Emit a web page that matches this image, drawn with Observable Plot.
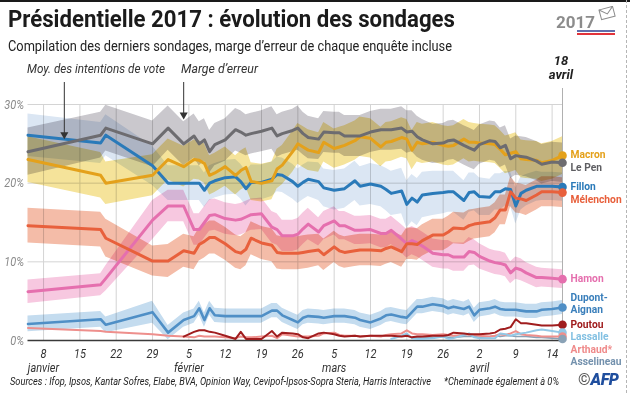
<!DOCTYPE html>
<html lang="fr"><head><meta charset="utf-8">
<script src="https://cdn.jsdelivr.net/npm/d3@7"></script>
<script src="https://cdn.jsdelivr.net/npm/@observablehq/plot@0.6"></script>
<style>
html,body{margin:0;padding:0;background:#fff;}
#wrap{position:relative;width:630px;height:393px;overflow:hidden;background:#fff;font-family:Roboto,"Noto Sans",sans-serif;color:#222;}
.t{position:absolute;white-space:nowrap;transform-origin:0 50%;}
#chart{position:absolute;left:0;top:58px;}
</style></head><body>
<div id="wrap">
 <div style="position:absolute;left:0;top:0;width:630px;height:2px;background:#1a1a1a"></div>
 <div style="position:absolute;left:626px;top:0;height:393px;border-left:1px dashed #b5b5b5"></div>
 <div class="t" data-w="447" style="left:8px;top:4px;font-size:24px;line-height:30px;font-weight:700;color:#1b1b1b">Présidentielle 2017 : évolution des sondages</div>
 <div class="t" data-w="444" style="left:8px;top:37px;font-size:14px;line-height:18px;color:#222">Compilation des derniers sondages, marge d’erreur de chaque enquête incluse</div>
 <div class="t" data-w="138" style="left:27px;top:61px;font-size:13px;line-height:16px;font-style:italic;color:#333">Moy. des intentions de vote</div>
 <div class="t" data-w="77" style="left:181px;top:61px;font-size:13px;line-height:16px;font-style:italic;color:#333">Marge d’erreur</div>
 <div style="position:absolute;left:541px;top:54px;width:40px;text-align:center;font-size:13px;line-height:14px;font-weight:700;font-style:italic;color:#222">18<br>avril</div>
 <div id="chart"></div>
 <div class="t" data-w="421" style="left:10px;top:375px;font-size:11px;line-height:14px;font-style:italic;color:#222">Sources : Ifop, Ipsos, Kantar Sofres, Elabe, BVA, Opinion Way, Cevipof-Ipsos-Sopra Steria, Harris Interactive</div>
 <div class="t" data-w="115" style="left:444px;top:375px;font-size:11px;line-height:14px;font-style:italic;color:#222">*Cheminade également à 0%</div>
 <div style="position:absolute;left:578px;top:371px;font-size:16px;line-height:18px;white-space:nowrap"><span style="color:#555">©</span><span style="font-weight:900;font-style:italic;color:#1f4e9e;letter-spacing:-0.5px">AFP</span></div>
 <svg style="position:absolute;left:555px;top:6px" width="64" height="30">
  <text x="1" y="22" font-size="17" font-weight="700" fill="#8c8c8c" font-family="Roboto">2017</text>
  <g transform="translate(44,4) rotate(-15)"><rect width="14" height="10" fill="#fff" stroke="#8c8c8c"/><path d="M0,0 L7,6 L14,0" fill="none" stroke="#8c8c8c"/></g>
  <line x1="22" y1="25" x2="60" y2="25" stroke="#2c3e8f" stroke-width="1.5"/>
  <line x1="22" y1="28" x2="60" y2="28" stroke="#e2333a" stroke-width="2"/>
 </svg>
</div>
<script>
// ---------- DATA ----------
const dates = ["2017-01-05","2017-01-19","2017-01-20","2017-01-29",
"2017-02-01","2017-02-04","2017-02-06","2017-02-07","2017-02-08","2017-02-09","2017-02-10","2017-02-12","2017-02-14","2017-02-15","2017-02-16","2017-02-17","2017-02-19","2017-02-21","2017-02-22","2017-02-23","2017-02-25","2017-02-26","2017-02-27","2017-02-28",
"2017-03-02","2017-03-03","2017-03-05","2017-03-06","2017-03-07","2017-03-09","2017-03-10","2017-03-12","2017-03-14","2017-03-15","2017-03-16","2017-03-18","2017-03-19","2017-03-20","2017-03-21","2017-03-22","2017-03-24","2017-03-26","2017-03-27","2017-03-28","2017-03-30","2017-03-31",
"2017-04-01","2017-04-02","2017-04-04","2017-04-05","2017-04-06","2017-04-07","2017-04-08","2017-04-09","2017-04-10","2017-04-11","2017-04-13","2017-04-14","2017-04-16","2017-04-18"];

const lePen = [24.0,26.1,27.0,25.0,
27.0,25.0,26.0,25.0,25.5,24.0,24.9,25.5,26.8,26.5,26.1,26.3,26.6,27.0,26.0,26.3,26.7,27.0,26.3,25.8,
25.6,26.5,26.4,26.4,26.0,26.0,26.0,26.5,26.8,26.8,26.8,27.0,26.5,26.6,25.9,25.5,25.0,25.1,25.4,25.5,24.8,24.5,
24.2,24.9,25.4,25.3,24.5,24.8,23.1,23.5,23.4,23.3,22.8,22.4,22.7,22.6];
const lePenErr = [3.0,2.9,2.9,2.9,
2.8,2.8,2.8,2.8,2.7,2.7,2.7,2.7,2.7,2.7,2.6,2.6,2.6,2.7,2.7,2.7,2.7,2.8,2.7,2.7,
2.6,2.6,2.6,2.6,2.6,2.6,2.6,2.6,2.6,2.6,2.6,2.7,2.7,2.6,2.6,2.6,2.5,2.5,2.5,2.5,2.5,2.5,
2.5,2.5,2.5,2.5,2.5,2.5,2.5,2.5,2.5,2.5,2.5,2.5,2.5,2.5];

const macron = [23.0,21.0,20.0,21.0,
23.0,22.1,23.0,22.9,22.5,21.0,21.3,22.1,21.0,21.6,22.0,20.2,20.0,20.3,21.8,22.3,24.0,25.0,24.6,24.2,
23.9,25.2,24.4,24.6,24.8,25.4,25.9,25.7,24.6,25.2,25.3,25.8,25.6,24.2,25.2,25.0,25.2,24.8,24.7,24.8,25.6,25.2,
25.2,25.1,25.0,24.9,24.3,23.6,23.8,24.0,23.1,23.0,22.9,22.6,22.9,23.5];
const macronErr = [2.9,2.9,2.7,2.6,
2.6,2.6,2.5,2.5,2.5,2.5,2.5,2.5,2.5,2.5,2.5,2.4,2.4,2.4,2.5,2.5,2.6,2.6,2.6,2.6,
2.5,2.5,2.5,2.5,2.5,2.5,2.5,2.5,2.5,2.5,2.5,2.5,2.5,2.5,2.5,2.5,2.5,2.5,2.5,2.5,2.5,2.5,
2.4,2.4,2.4,2.4,2.4,2.4,2.4,2.4,2.4,2.4,2.4,2.4,2.4,2.4];

const fillon = [26.1,25.1,26.1,22.2,
20.0,20.0,20.0,20.0,19.1,20.0,20.3,20.7,20.8,20.2,19.3,20.1,20.1,20.5,21.1,21.0,20.2,19.6,20.1,20.5,
20.2,19.4,19.1,19.2,19.3,20.3,19.6,19.9,19.6,19.2,18.7,19.0,17.3,18.1,17.6,18.5,18.7,18.8,18.9,18.9,17.8,18.8,
18.9,18.3,18.2,18.9,18.9,19.3,19.2,17.1,18.7,19.1,19.6,19.6,19.6,19.5];
const fillonErr = [2.7,2.6,2.6,2.5,
2.2,2.2,2.2,2.2,2.2,2.2,2.2,2.2,2.2,2.2,2.2,2.2,2.2,2.2,2.2,2.2,2.2,2.2,2.2,2.2,
2.4,2.4,2.5,2.5,2.5,2.5,2.5,2.6,2.6,2.7,2.8,2.9,3.0,3.0,3.0,2.9,2.8,2.7,2.6,2.6,2.5,2.5,
2.4,2.4,2.3,2.3,2.3,2.2,2.2,2.3,2.1,2.0,1.9,1.8,1.8,1.8];

const melenchon = [14.6,14.1,13.0,10.1,
10.1,11.4,11.1,12.2,12.6,13.1,13.1,12.3,11.3,11.1,11.6,13.0,12.4,12.1,11.2,11.1,11.1,11.1,11.2,11.3,
11.5,10.9,11.9,11.4,11.2,11.4,11.5,11.5,11.4,11.7,11.9,11.3,12.3,12.3,12.2,12.7,13.4,13.4,13.8,14.3,14.2,14.6,
14.8,14.9,15.1,15.6,16.6,16.6,18.9,18.1,18.0,17.8,18.5,18.9,18.9,18.8];
const melenchonErr = [2.2,2.2,2.4,1.9,
2.1,2.1,2.1,2.1,2.1,2.1,2.1,2.1,2.1,2.1,2.1,2.1,2.1,2.1,2.1,2.1,2.1,2.1,2.1,2.1,
2.0,2.0,2.0,2.0,2.0,2.0,2.0,2.0,2.0,2.0,2.0,2.0,2.0,2.0,2.0,2.0,2.0,2.0,2.0,2.0,2.0,2.0,
1.9,1.9,1.9,1.9,1.9,1.9,1.9,1.9,1.9,1.9,1.9,1.9,1.9,1.9];

const hamon = [6.2,7.1,7.9,15.3,
17.1,17.1,14.1,14.1,15.0,15.9,16.0,15.5,15.3,15.4,15.7,16.0,16.1,14.4,14.1,13.3,13.3,13.5,14.2,14.8,
13.8,14.6,15.2,14.6,14.6,14.0,14.0,14.1,13.6,13.6,14.0,12.9,12.3,12.7,12.4,12.0,11.1,10.9,10.9,10.6,10.6,11.3,
11.2,10.7,10.1,9.9,9.8,9.6,8.6,9.2,9.0,8.6,8.0,8.0,7.9,7.8];
const hamonErr = [1.5,1.4,1.6,2.5,
2.0,2.0,2.0,2.0,2.0,2.0,2.0,2.0,2.0,2.0,2.0,2.0,2.0,2.0,2.0,2.0,2.0,2.0,2.0,2.0,
1.8,1.8,1.8,1.8,1.8,1.8,1.8,1.8,1.8,1.8,1.8,1.8,1.8,1.8,1.8,1.8,1.8,1.8,1.8,1.8,1.8,1.8,
1.6,1.6,1.5,1.5,1.5,1.5,1.4,1.4,1.4,1.3,1.3,1.2,1.2,1.2];

const dupont = [2.1,2.7,2.0,3.6,
1.0,2.6,3.1,4.1,2.6,4.1,3.2,3.1,3.1,3.1,3.1,3.1,3.1,3.8,3.8,3.2,2.6,2.3,2.9,3.1,
3.0,2.9,3.1,3.1,3.1,2.9,2.6,2.3,2.8,3.2,3.3,3.0,2.9,3.6,4.3,4.3,4.6,4.4,4.1,4.3,4.0,4.3,
3.2,3.9,4.1,4.3,4.0,3.9,3.9,3.9,3.8,3.7,3.7,3.9,4.0,4.2];
const dupontErr = [1.0,1.0,1.0,1.4,
0.9,0.9,0.9,0.9,0.9,0.9,0.9,0.9,0.9,0.9,0.9,0.9,0.9,0.9,0.9,0.9,0.9,0.9,0.9,0.9,
0.9,0.9,0.9,0.9,0.9,0.9,0.9,0.9,0.9,0.9,0.9,0.9,0.9,0.9,0.9,0.9,0.9,0.9,0.9,0.9,0.9,0.9,
0.9,0.9,0.9,0.9,0.9,0.9,0.9,0.9,0.9,0.9,0.9,0.9,0.9,0.9];

const poutou = [null,null,null,null,
null,0.5,1.1,1.3,1.3,1.1,1.0,0.6,0.2,1.1,0.2,0.2,0.2,1.2,0.5,1.0,0.9,0.8,0.4,0.3,
0.9,1.0,0.8,0.6,0.5,0.6,0.5,0.6,0.6,0.6,0.6,0.5,0.6,0.4,0.5,0.5,0.6,0.6,0.7,1.0,0.9,0.8,
0.8,0.8,0.9,1.0,1.4,1.5,1.7,2.7,2.2,2.2,2.0,1.9,1.9,2.0];

const arthaud = [1.6,1.2,1.1,0.8,
0.6,0.5,0.4,0.6,0.5,0.5,0.5,0.4,0.3,0.5,0.4,0.4,0.5,0.6,0.3,0.8,0.6,0.5,0.5,0.5,
0.6,0.9,1.0,0.7,0.6,0.6,0.5,0.6,0.5,0.7,0.8,0.9,1.3,0.9,0.8,0.8,0.7,0.8,0.7,0.6,0.7,0.8,
0.7,0.6,0.5,0.6,0.8,0.7,0.9,1.2,0.8,0.7,0.6,0.5,0.5,0.5];

const lassalle = [null,null,null,null,
null,null,null,null,null,null,null,null,null,null,null,null,null,null,null,null,null,null,null,null,
null,null,null,null,null,null,null,null,null,null,0.2,0.6,0.9,0.3,0.2,0.2,0.3,0.5,0.2,0.3,0.7,0.9,
0.4,0.3,0.3,0.3,0.9,0.8,0.6,0.8,0.9,1.0,1.3,1.4,1.2,1.0];

const asselineau = [null,null,null,null,
null,null,null,null,null,null,null,null,null,null,null,null,null,null,null,null,null,null,null,null,
null,null,null,null,null,null,null,null,null,null,null,null,null,0.3,0.4,0.3,0.4,0.5,0.4,0.4,0.5,0.5,
0.5,0.4,0.5,0.6,0.5,0.6,0.6,0.5,0.5,0.5,0.4,0.4,0.3,0.2];

const candidateNames = ["Macron","Le Pen","Fillon","Mélenchon","Hamon","Dupont-Aignan","Poutou","Lassalle","Arthaud","Asselineau"];
const candidateLabels = ["Macron","Le Pen","Fillon","Mélenchon","Hamon","Dupont-\nAignan","Poutou","Lassalle","Arthaud*","Asselineau"];

const yTicks = [0, 10, 20, 30];
const xTickDates = ["2017-01-08","2017-01-15","2017-01-22","2017-01-29","2017-02-05","2017-02-12","2017-02-19","2017-02-26","2017-03-05","2017-03-12","2017-03-19","2017-03-26","2017-04-02","2017-04-09","2017-04-16"];
const xTickLabels = ["8","15","22","29","5","12","19","26","5","12","19","26","2","9","14"];
const xTickMonths = ["janvier","","","","février","","","","mars","","","","avril","",""];

const arrowDates = ["2017-01-12","2017-02-04"];
const arrowValues = [25.8, 28.3];

// ---------- STYLE ----------
const FONT = 'Roboto,"Noto Sans",sans-serif';
const series = [
  {vals: macron, err: macronErr, line:"#e4a11b", band:"#f5e39a", text:"#e4a11b", w:3},
  {vals: lePen, err: lePenErr, line:"#6d6c70", band:"#cac8cd", text:"#5e5e62", w:3},
  {vals: fillon, err: fillonErr, line:"#2a7ab9", band:"#dbe6f3", text:"#2a7ab9", w:3},
  {vals: melenchon, err: melenchonErr, line:"#e8603c", band:"#f4bca8", text:"#e8603c", w:3},
  {vals: hamon, err: hamonErr, line:"#e56fae", band:"#f7c8e0", text:"#e56fae", w:3},
  {vals: dupont, err: dupontErr, line:"#4f8fc6", band:"#c4dcef", text:"#3a7fbb", w:2.6},
  {vals: poutou, line:"#a01d1e", text:"#a01d1e", w:2},
  {vals: lassalle, line:"#93c8e6", text:"#82c0e2", w:2},
  {vals: arthaud, line:"#ee8f8c", text:"#ef8a8a", w:2},
  {vals: asselineau, line:"#8aa2b6", text:"#7391ad", w:1.6}
];
const lineOrder = [9, 8, 7, 6, 5, 4, 2, 3, 0, 1];

const parse = s => new Date(s + "T00:00:00Z");
const D = dates.map(parse);
function rows(s) {
  return D.map((d, i) => ({date: d, v: s.vals[i],
      lo: s.err ? s.vals[i] - s.err[i] : null, hi: s.err ? s.vals[i] + s.err[i] : null}))
    .filter(r => r.v != null);
}

const W = 630, H = 315, ML = 27.5, MR = 68, MT = 46, MB = 33;
const yMax = yTicks[yTicks.length - 1];
const yPix = d3.scaleLinear([0, yMax], [H - MB, MT]);
const LABEL_SIZE = 11.8, LABEL_GAP = 12.6;

// end points and labels (pushed apart so they do not overlap)
const ends = series.map((s, k) => {
  const r = rows(s); const e = r[r.length - 1];
  return {date: e.date, v: e.v, name: candidateNames[k], label: candidateLabels[k], color: s.line, tcolor: s.text};
});
const sorted = ends.slice().sort((a, b) => b.v - a.v);
let prev = -Infinity;
for (const e of sorted) {
  const n = e.label.split("\n").length;
  const c0 = Math.max(yPix(e.v) - 1 - (n - 1) * 9, prev + LABEL_GAP);
  prev = c0 + (n - 1) * 12 + (n > 1 ? 1.5 : 0);
  e.ly = yPix.invert(c0 + (n - 1) * 6);
}

const xt = xTickDates.map((d, i) => ({date: parse(d), t: xTickLabels[i] + (xTickMonths[i] ? "\n" + xTickMonths[i] : "")}));
const arrows = arrowDates.map((d, i) => ({date: parse(d), value: arrowValues[i]}));

const marks = [];
marks.push(Plot.ruleY(yTicks.slice(1), {stroke: "#d4d4d4", strokeWidth: 1}));
marks.push(Plot.ruleX(xt, {x: "date", stroke: "#d4d4d4", strokeWidth: 1}));
marks.push(Plot.ruleX([D[D.length - 1]], {stroke: "#b0b0b0", strokeWidth: 1, insetTop: -16}));
for (const s of series) if (s.err) {
  marks.push(Plot.areaY(rows(s), {x: "date", y1: "lo", y2: "hi", fill: s.band, mixBlendMode: "multiply"}));
}
marks.push(Plot.ruleY([0], {stroke: "#3a3a3a", strokeWidth: 1.3}));
for (const k of lineOrder) {
  const s = series[k];
  marks.push(Plot.lineY(rows(s), {x: "date", y: "v", stroke: s.line, strokeWidth: s.w, strokeLinejoin: "round"}));
}
marks.push(Plot.dot(ends, {x: "date", y: "v", r: 4.3, fill: "color", stroke: "none"}));
marks.push(Plot.text(ends, {x: "date", y: "ly", text: "label", fill: "tcolor", textAnchor: "start", dx: 8,
  fontWeight: "bold", fontSize: LABEL_SIZE, lineHeight: 12 / LABEL_SIZE, lineAnchor: "middle", className: "cand-labels"}));
marks.push(Plot.text(yTicks, {x: D[0], y: d => d, text: d => d + "%", textAnchor: "end", dx: -4,
  fontStyle: "italic", fill: "#8a8a8a", fontSize: 12.5, className: "y-labels"}));
marks.push(Plot.text(xt, {x: "date", text: "t", frameAnchor: "bottom", lineAnchor: "top", dy: 8, lineHeight: 1.1,
  fontStyle: "italic", fill: "#333", fontSize: 12.5, className: "x-labels"}));
marks.push(Plot.ruleX(arrows, {x: "date", y1: () => yMax, y2: "value", insetTop: -22, insetBottom: 4, stroke: "#333", strokeWidth: 1}));
marks.push(Plot.dot(arrows, {x: "date", y: "value", symbol: "triangle", rotate: 180, r: 3, fill: "#333", stroke: "none", dy: -3}));

const chart = Plot.plot({
  width: W, height: H, marginLeft: ML, marginRight: MR, marginTop: MT, marginBottom: MB,
  x: {type: "utc", domain: [D[0], D[D.length - 1]], axis: null},
  y: {domain: [0, yMax], axis: null},
  color: {type: "identity"},
  style: {fontFamily: FONT, fontSize: "12.5px", background: "transparent", overflow: "visible"},
  marks
});
document.getElementById("chart").appendChild(chart);

// condense SVG texts horizontally (the reference uses a condensed face)
function squeeze(cls, s, anchor) {
  chart.querySelectorAll(`.${cls} text`).forEach(t => {
    const bb = t.getBBox();
    const ox = anchor === "start" ? bb.x : anchor === "end" ? bb.x + bb.width : bb.x + bb.width / 2;
    const p = t.getAttribute("transform") || "";
    t.setAttribute("transform", `${p} translate(${ox},0) scale(${s},1) translate(${-ox},0)`);
  });
}
squeeze("cand-labels", 0.87, "start");
squeeze("y-labels", 0.88, "end");
squeeze("x-labels", 0.88, "middle");

// fit HTML texts to their measured widths in the reference
document.querySelectorAll("[data-w]").forEach(el => {
  const w = el.getBoundingClientRect().width;
  if (w > 0) el.style.transform = `scaleX(${(+el.dataset.w) / w})`;
});
</script>
</body></html>
